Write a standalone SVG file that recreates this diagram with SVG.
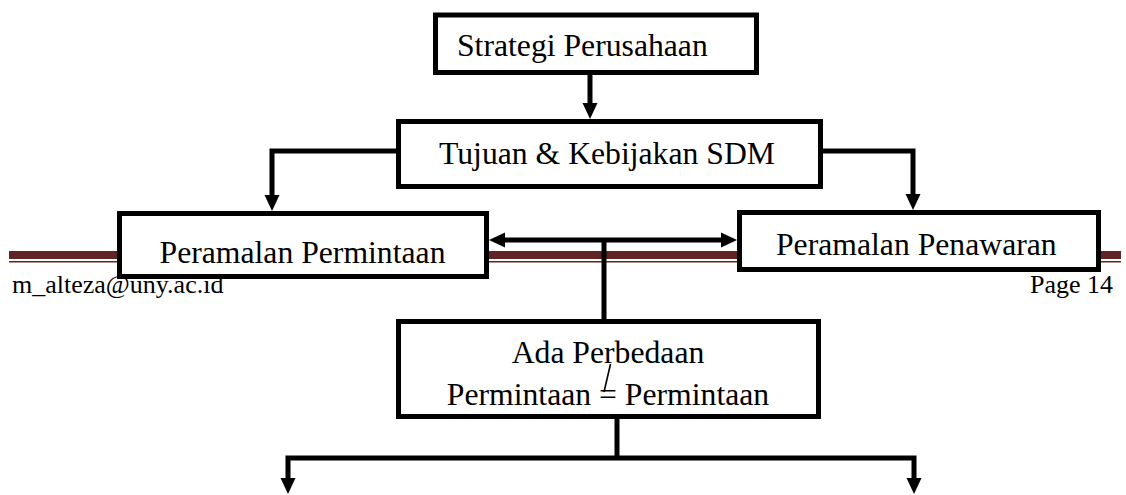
<svg xmlns="http://www.w3.org/2000/svg" width="1126" height="495" viewBox="0 0 1126 495">
  <style>
    .box { fill: #ffffff; stroke: #000000; stroke-width: 5; }
    .lbl { font-family: "Liberation Serif", "Times New Roman", serif; font-size: 31.7px; fill: #000000; }
    .foot { font-family: "Liberation Serif", "Times New Roman", serif; font-size: 26px; fill: #000000; }
    .con { fill: none; stroke: #000000; stroke-width: 5; stroke-linejoin: miter; }
  </style>
  <defs>
    <marker id="arr" markerUnits="userSpaceOnUse" markerWidth="16" markerHeight="16" refX="0" refY="7.5" orient="auto-start-reverse" viewBox="0 0 16 15">
      <path d="M0,0 L16,7.5 L0,15 z" fill="#000000"/>
    </marker>
  </defs>
  <rect width="1126" height="495" fill="#ffffff"/>
  <g id="header-line">
    <rect x="9" y="251" width="1112" height="8" fill="#622423"/>
    <rect x="9" y="261" width="1112" height="1.5" fill="#622423"/>
  </g>
  <g id="footer">
    <text class="foot" x="12" y="293">m_alteza@uny.ac.id</text>
    <text class="foot" x="1113" y="293" text-anchor="end">Page 14</text>
  </g>
  <g id="connectors">
    <path class="con" d="M590,75 V103" marker-end="url(#arr)"/>
    <path class="con" d="M396,151 H272 V195" marker-end="url(#arr)"/>
    <path class="con" d="M823,151 H913 V194" marker-end="url(#arr)"/>
    <path class="con" d="M505,240 H721" marker-start="url(#arr)" marker-end="url(#arr)"/>
    <path class="con" d="M604,240 V320"/>
    <path class="con" d="M617,418 V458"/>
    <path class="con" d="M288,478 V458 H914 V478" marker-start="url(#arr)" marker-end="url(#arr)"/>
  </g>
  <g id="node-strategi">
    <rect class="box" x="435.5" y="15" width="321" height="57.5"/>
    <text class="lbl" x="457" y="56">Strategi Perusahaan</text>
  </g>
  <g id="node-tujuan">
    <rect class="box" x="398.5" y="121.5" width="422" height="65"/>
    <text class="lbl" x="439" y="164">Tujuan &amp; Kebijakan SDM</text>
  </g>
  <g id="node-permintaan">
    <rect class="box" x="119.5" y="213.5" width="367" height="63"/>
    <text class="lbl" x="302.5" y="263" text-anchor="middle">Peramalan Permintaan</text>
  </g>
  <g id="node-penawaran">
    <rect class="box" x="739.5" y="212.5" width="359" height="57"/>
    <text class="lbl" x="776" y="255">Peramalan Penawaran</text>
  </g>
  <g id="node-perbedaan">
    <rect class="box" x="398.5" y="321.5" width="420" height="95"/>
    <text class="lbl" x="608" y="363" text-anchor="middle">Ada Perbedaan</text>
    <text class="lbl" x="608" y="405" text-anchor="middle">Permintaan = Permintaan</text>
    <line x1="610.5" y1="364" x2="604" y2="392" stroke="#000000" stroke-width="1.6"/>
  </g>
</svg>
